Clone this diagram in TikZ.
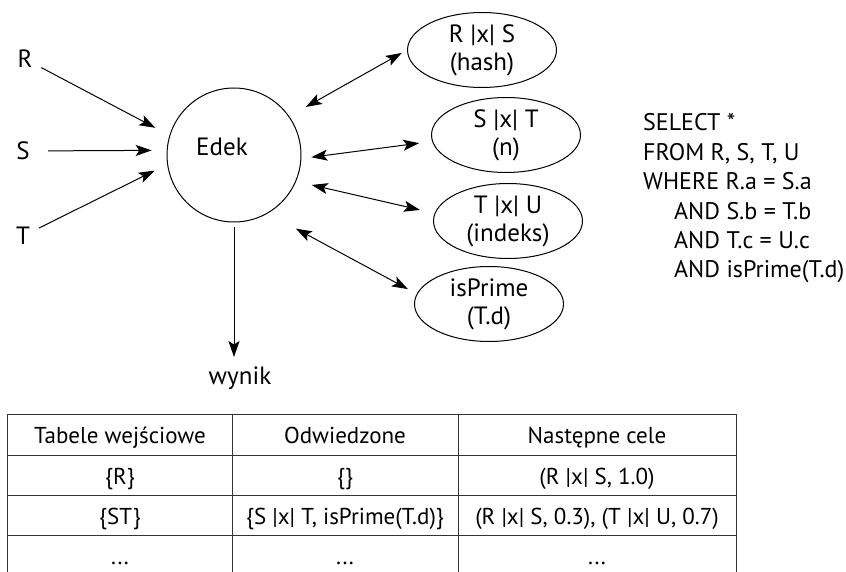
\documentclass[tikz,border=0pt]{standalone}
\usepackage{fontspec}
\setmainfont{PT Sans}
\usetikzlibrary{shapes.geometric,arrows.meta,calc,positioning}
\tikzstyle{hub} = [circle, draw=black, line width=1pt, minimum size=134pt, inner sep=0pt]
\tikzstyle{goal} = [ellipse, draw=black, line width=1pt, minimum width=149pt,
minimum height=75pt, inner sep=0pt, align=center, font=\fontsize{25}{28}\selectfont]
\tikzstyle{arrow} = [line width=1pt,-{Stealth[length=16pt,width=11pt,inset=3.5pt]}]
\tikzstyle{darrow} = [line width=1pt,{Stealth[length=16pt,width=11pt,inset=3.5pt]}-{Stealth[length=16pt,width=11pt,inset=3.5pt]}]
\tikzstyle{tab} = [line width=1pt, draw=black!80]
\tikzstyle{cell} = [anchor=base, font=\fontsize{23}{26}\selectfont]

\begin{document}
\begin{tikzpicture}[x=1pt,y=-1pt,font=\fontsize{25}{29.4}\selectfont]
            \useasboundingbox (0,0) rectangle (846,572);
            % inputs and the eddy
            \node (R) at (25,59) {R};
            \node (S) at (23,151) {S};
            \node (T) at (23,236) {T};
            \node[hub, label={[xshift=-12pt,yshift=8pt]center:Edek}] (edek) at (234,155) {};
            \node (wynik) at (240,378) {wynik};
            \draw [arrow, shorten <=6pt, shorten >=16pt] (R) -- (edek.163);
            \draw [arrow, shorten <=15pt, shorten >=15pt] (S) -- (edek.176);
            \draw [arrow, shorten <=6pt, shorten >=14pt] (T) -- (edek.188);
            \draw [arrow, shorten <=5pt, shorten >=6pt] (edek.south) -- (edek.south |- wynik.north);
            % operators
            \node[goal] (rxs) at (482,50) {R |x| S\\(hash)};
            \node[goal] (sxt) at (506,135) {S |x| T\\(n)};
            \node[goal] (txu) at (508,221) {T |x| U\\(indeks)};
            \node[goal] (prime) at (489,304) {isPrime\\(T.d)};
            \draw [darrow, shorten <=19pt, shorten >=6pt] (edek.35) -- (rxs.west);
            \draw [darrow, shorten <=10pt, shorten >=13pt] (edek.357) -- (sxt.185);
            \draw [darrow, shorten <=16pt, shorten >=15pt] (edek.337) -- (txu.174);
            \draw [darrow, shorten <=32pt, shorten >=10pt] (edek.300) -- (prime.172);
            % query
            \node[anchor=north west, inner sep=0pt, align=left,
                font=\fontsize{24}{29.4}\selectfont] (query) at (643,113.5)
                {SELECT *\\FROM R, S, T, U\\WHERE R.a = S.a\\
                \hspace*{31pt}AND S.b = T.b\\\hspace*{31pt}AND T.c = U.c\\
                \hspace*{31pt}AND isPrime(T.d)};
            % routing table
            \draw[tab] (7,580) -- (7,414) -- (736,414) -- (736,580);
            \foreach \y in {455,495,535}
                \draw[tab] (7,\y) -- (736,\y);
            \foreach \x in {232,458}
                \draw[tab] (\x,414) -- (\x,580);
            \node[cell] (h1) at (120,443) {Tabele wejściowe};
            \node[cell] (h2) at (345,443) {Odwiedzone};
            \node[cell] (h3) at (597,443) {Następne cele};
            \node[cell] (a1) at (120,484) {\{R\}};
            \node[cell] (a2) at (345,484) {\{\}};
            \node[cell] (a3) at (597,484) {(R |x| S, 1.0)};
            \node[cell] (b1) at (120,524) {\{ST\}};
            \node[cell] (b2) at (345,524) {\{S |x| T, isPrime(T.d)\}};
            \node[cell] (b3) at (597,524) {(R |x| S, 0.3), (T |x| U, 0.7)};
            \node[cell] (c1) at (120,564) {...};
            \node[cell] (c2) at (345,564) {...};
            \node[cell] (c3) at (597,564) {...};
        \end{tikzpicture}
\end{document}
